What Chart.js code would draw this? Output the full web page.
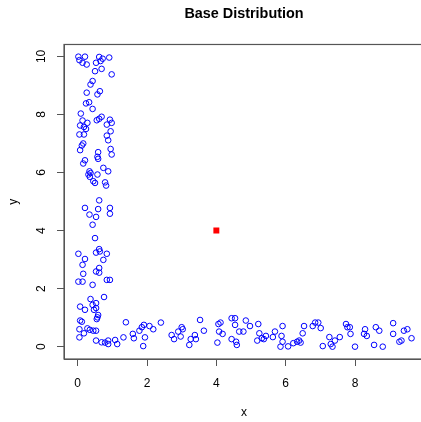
<!DOCTYPE html>
<html>
<head>
<meta charset="utf-8">
<script src="https://cdn.jsdelivr.net/npm/chart.js@4/dist/chart.umd.min.js"></script>
<style>
  html, body { margin: 0; padding: 0; overflow: hidden; background: #fff; }
  canvas { display: block; }
</style>
</head>
<body>
<canvas id="chart_base" width="488" height="422"></canvas>
<script>
let xValues = [
  0.02, 0.05, 0.21, 0.14, 0.26, 0.62, 0.72, 0.66, 0.53, 0.91, 0.69, 0.50, 0.98, 0.43, 0.37, 0.26,
  0.64, 0.57, 0.24, 0.33, 0.43, 0.09, 0.14, 0.28, 0.69, 0.62, 0.55, 0.93, 0.98, 0.84, 0.07, 0.18,
  0.24, 0.05, 0.18, 0.95, 0.84, 0.88, 0.16, 0.12, 0.95, 0.07, 0.98, 0.59, 0.57, 0.59, 0.21, 0.16,
  0.74, 0.88, 0.34, 0.37, 0.31, 0.35, 0.57, 0.45, 0.50, 0.79, 0.82, 0.62, 0.21, 0.59, 0.93, 0.93,
  0.34, 0.53, 0.43, 0.50, 0.62, 0.02, 0.21, 0.14, 0.53, 0.64, 0.84, 0.74, 0.62, 0.53, 0.62, 0.16,
  0.02, 0.14, 0.43, 0.84, 0.93, 0.76, 0.37, 0.53, 0.43, 0.07, 0.21, 0.47, 0.53, 0.59, 0.57, 0.55,
  0.07, 0.12, 1.39, 0.05, 0.28, 0.35, 0.45, 0.53, 0.18, 0.05, 0.53, 0.69, 0.79, 0.88, 0.88, 1.08,
  1.14, 1.32,
  1.59, 1.62, 1.78, 1.85, 1.91, 1.94, 1.89, 2.07, 2.18, 2.40, 2.71, 2.78, 2.90, 2.97, 3.00, 3.03,
  3.26, 3.22, 3.38, 3.41, 3.53, 3.64, 4.06, 4.12, 4.08, 4.18, 4.03, 4.44, 4.54, 4.54, 4.44, 4.57,
  4.59, 4.66, 4.78, 4.85, 4.97, 5.21, 5.24, 5.18, 5.31, 5.37, 5.43, 5.63, 5.69, 5.91, 5.88, 5.91,
  5.85, 6.07, 6.22, 6.33, 6.39, 6.43, 6.49, 6.53, 6.78, 6.85, 6.94, 7.01, 7.07, 7.26, 7.30, 7.35,
  7.42, 7.56, 7.74, 7.78, 7.85, 7.87, 8.00, 8.29, 8.26, 8.34, 8.55, 8.60, 8.70, 8.80, 9.10, 9.10,
  9.28, 9.34, 9.41, 9.51, 9.63
]
let yValues = [
  9.99, 9.87, 9.99, 9.78, 9.72, 9.98, 9.92, 9.84, 9.78, 9.96, 9.57, 9.49, 9.38, 9.15, 9.03, 8.75,
  8.80, 8.69, 8.38, 8.42, 8.19, 8.03, 7.79, 7.71, 7.92, 7.85, 7.80, 7.82, 7.71, 7.65, 7.62, 7.57,
  7.50, 7.31, 7.31, 7.42, 7.27, 7.11, 7.00, 6.93, 6.81, 6.77, 6.62, 6.70, 6.54, 6.47, 6.42, 6.31,
  6.16, 6.04, 6.04, 5.98, 5.93, 5.85, 5.93, 5.70, 5.64, 5.66, 5.55, 5.04, 4.78, 4.74, 4.78, 4.58,
  4.55, 4.47, 4.20, 3.74, 3.36, 3.20, 3.02, 2.82, 3.24, 3.28, 3.20, 2.99, 2.71, 2.59, 2.55, 2.51,
  2.24, 2.24, 2.13, 2.30, 2.30, 1.71, 1.64, 1.50, 1.44, 1.38, 1.27, 1.27, 1.33, 1.09, 1.01, 0.95,
  0.90, 0.86, 0.84, 0.60, 0.63, 0.58, 0.55, 0.55, 0.46, 0.32, 0.21, 0.15, 0.14, 0.21, 0.09, 0.23,
  0.09, 0.32,
  0.44, 0.29, 0.55, 0.67, 0.75, 0.32, 0.02, 0.71, 0.60, 0.83, 0.40, 0.26, 0.52, 0.35, 0.67, 0.60,
  0.26, 0.06, 0.40, 0.26, 0.92, 0.55, 0.78, 0.83, 0.52, 0.44, 0.14, 0.98, 0.98, 0.75, 0.26, 0.17,
  0.06, 0.52, 0.52, 0.90, 0.71, 0.78, 0.46, 0.21, 0.29, 0.26, 0.37, 0.33, 0.52, 0.71, 0.37, 0.17,
  0.00, 0.01, 0.12, 0.17, 0.21, 0.14, 0.46, 0.71, 0.71, 0.83, 0.83, 0.64, 0.02, 0.33, 0.09, 0.00,
  0.21, 0.33, 0.78, 0.67, 0.67, 0.44, 0.00, 0.60, 0.44, 0.37, 0.06, 0.67, 0.55, 0.00, 0.81, 0.44,
  0.17, 0.21, 0.55, 0.60, 0.29
]
let centerX = [4]
let centerY = [4]
let xTicks = [0, 2, 4, 6, 8]
let yTicks = [0, 2, 4, 6, 8, 10]

let font = "'Liberation Sans', Arial, Helvetica, sans-serif"
let lineColor = '#555'

function toPoints(xs, ys){
    return xs.map((x, i) => ({x: x, y: ys[i]}))
}

// R draws a full box around the plot region
const boxPlugin = {
    id: 'box',
    afterDatasetsDraw(chart){
        const {ctx, chartArea} = chart
        ctx.save()
        ctx.strokeStyle = lineColor
        ctx.lineWidth = 1.2
        ctx.strokeRect(chartArea.left, chartArea.top, chartArea.right - chartArea.left, chartArea.bottom - chartArea.top)
        ctx.restore()
    }
}

function createScatter(){
    const ctx = document.getElementById('chart_base').getContext('2d')

    const config = {
        type: 'scatter',
        data: {
            datasets: [
                {
                    label: 'points',
                    data: toPoints(xValues, yValues),
                    pointStyle: 'circle',
                    pointRadius: 2.8,
                    borderWidth: 1,
                    borderColor: '#0000ff',
                    backgroundColor: 'rgba(0,0,0,0)'
                },
                {
                    label: 'center',
                    data: toPoints(centerX, centerY),
                    pointStyle: 'rect',
                    pointRadius: 4.2,
                    borderWidth: 0,
                    backgroundColor: '#ff0000'
                }
            ]
        },
        options: {
            responsive: false,
            animation: false,
            devicePixelRatio: 1,
            layout: { padding: 0 },
            plugins: {
                legend: { display: false },
                tooltip: { enabled: false },
                title: {
                    display: true,
                    text: 'Base Distribution',
                    color: '#000',
                    font: { family: font, size: 14.4, weight: 'bold', lineHeight: 1.2 },
                    padding: { top: 5.2, bottom: 22 }
                }
            },
            scales: {
                x: {
                    type: 'linear',
                    min: -0.395,
                    max: 9.99,
                    afterBuildTicks: scale => { scale.ticks = xTicks.map(v => ({value: v})) },
                    afterFit: scale => { scale.height = 63 },
                    grid: { display: true, drawOnChartArea: false, tickLength: 7, tickColor: lineColor, tickWidth: 1 },
                    border: { display: true, color: lineColor, width: 1 },
                    ticks: { color: '#000', padding: 10, maxRotation: 0, font: { family: font, size: 12 } },
                    title: { display: true, text: 'x', color: '#000', padding: { top: 0, bottom: 2 }, font: { family: font, size: 12 } }
                },
                y: {
                    type: 'linear',
                    min: -0.425,
                    max: 10.41,
                    afterBuildTicks: scale => { scale.ticks = yTicks.map(v => ({value: v})) },
                    afterFit: scale => { scale.width = 64 },
                    grid: { display: true, drawOnChartArea: false, tickLength: 7, tickColor: lineColor, tickWidth: 1 },
                    border: { display: true, color: lineColor, width: 1 },
                    ticks: { color: '#000', padding: 8.6, minRotation: 90, maxRotation: 90, crossAlign: 'center', font: { family: font, size: 12 } },
                    title: { display: true, text: 'y', color: '#000', padding: { top: 6, bottom: 0 }, font: { family: font, size: 12 } }
                },
                // empty right margin so the plot region is centred like R's
                yRight: {
                    type: 'linear',
                    position: 'right',
                    min: 0,
                    max: 1,
                    afterFit: scale => { scale.width = 64 },
                    grid: { display: false },
                    border: { display: false },
                    ticks: { display: false }
                }
            }
        },
        plugins: [boxPlugin]
    }

    let myChart = new Chart(ctx, config)
}

createScatter()
</script>
</body>
</html>
